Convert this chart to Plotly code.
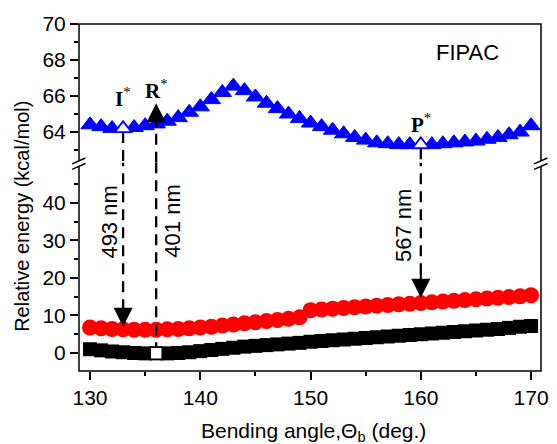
import plotly.graph_objects as go

# ---------------- data ----------------
angles = list(range(130, 171))

excited_energy = [64.4, 64.3, 64.2, 64.2, 64.25, 64.35, 64.45, 64.6, 64.8, 65.1,
                  65.4, 65.8, 66.2, 66.55, 66.3, 65.95, 65.6, 65.3, 65.0, 64.75,
                  64.5, 64.3, 64.1, 63.9, 63.7, 63.55, 63.4, 63.35, 63.3, 63.3,
                  63.3, 63.3, 63.35, 63.4, 63.45, 63.5, 63.6, 63.7, 63.85, 64.0,
                  64.35]

middle_energy = [6.8, 6.6, 6.4, 6.3, 6.2, 6.2, 6.2, 6.3, 6.4, 6.6,
                 6.8, 7.0, 7.3, 7.6, 7.9, 8.2, 8.5, 8.8, 9.1, 9.5,
                 11.4, 11.6, 11.8, 12.0, 12.2, 12.4, 12.6, 12.8, 13.0, 13.1,
                 13.3, 13.5, 13.7, 13.9, 14.1, 14.3, 14.5, 14.7, 14.9, 15.1,
                 15.4]

ground_energy = [1.0, 0.7, 0.4, 0.2, 0.0, -0.1, -0.1, -0.1, 0.0, 0.2,
                 0.5, 0.8, 1.1, 1.4, 1.7, 1.9, 2.1, 2.3, 2.5, 2.7,
                 3.0, 3.2, 3.4, 3.6, 3.8, 4.0, 4.2, 4.4, 4.6, 4.8,
                 5.0, 5.2, 5.4, 5.6, 5.8, 6.0, 6.2, 6.4, 6.7, 7.0,
                 7.2]

angle_I, angle_R, angle_P = 133, 136, 160
wavelength_labels = ["493 nm", "401 nm", "567 nm"]
x_ticks = [130, 140, 150, 160, 170]
y_low_ticks = [0, 10, 20, 30, 40]
y_high_ticks = [64, 66, 68, 70]

X_RANGE = [129.0, 170.9]
Y_LOW_RANGE = [-4.8, 50.7]
Y_HIGH_RANGE = [62.29, 70.0]
R_STAR_TIP = 65.6

def val(series, a):
    return series[angles.index(a)]

FONT = "Liberation Sans, Arial, sans-serif"
SERIF = "Liberation Serif, Times New Roman, serif"
DASH = "11px,7px"

fig = go.Figure()

# main series
fig.add_trace(go.Scatter(x=angles, y=ground_energy, mode="markers",
                         marker=dict(symbol="square", size=14, color="black"),
                         yaxis="y", showlegend=False))
fig.add_trace(go.Scatter(x=angles, y=middle_energy, mode="markers",
                         marker=dict(symbol="circle", size=16, color="#FF0000"),
                         yaxis="y", showlegend=False))
fig.add_trace(go.Scatter(x=angles, y=excited_energy, mode="markers",
                         marker=dict(symbol="triangle-up", size=16, color="#0000FF",
                                     line=dict(color="#0000FF", width=1)),
                         yaxis="y2", showlegend=False))

# dashed transition lines
line_style = dict(color="black", width=2.3, dash=DASH)
# I* -> down (493 nm)
fig.add_trace(go.Scatter(x=[angle_I, angle_I], y=[val(excited_energy, angle_I) - 0.2, Y_HIGH_RANGE[0] - 1],
                         mode="lines", line=line_style, yaxis="y2", showlegend=False))
fig.add_trace(go.Scatter(x=[angle_I, angle_I], y=[Y_LOW_RANGE[1] + 2, val(middle_energy, angle_I) + 4],
                         mode="lines", line=line_style, yaxis="y", showlegend=False))
# R -> R* (401 nm)
fig.add_trace(go.Scatter(x=[angle_R, angle_R], y=[val(ground_energy, angle_R), Y_LOW_RANGE[1] + 2],
                         mode="lines", line=line_style, yaxis="y", showlegend=False))
fig.add_trace(go.Scatter(x=[angle_R, angle_R], y=[Y_HIGH_RANGE[0] - 1, R_STAR_TIP - 0.8],
                         mode="lines", line=line_style, yaxis="y2", showlegend=False))
# P* -> down (567 nm)
fig.add_trace(go.Scatter(x=[angle_P, angle_P], y=[val(excited_energy, angle_P) - 0.2, Y_HIGH_RANGE[0] - 1],
                         mode="lines", line=line_style, yaxis="y2", showlegend=False))
fig.add_trace(go.Scatter(x=[angle_P, angle_P], y=[Y_LOW_RANGE[1] + 2, val(middle_energy, angle_P) + 4],
                         mode="lines", line=line_style, yaxis="y", showlegend=False))

# highlighted points
fig.add_trace(go.Scatter(x=[angle_I, angle_P],
                         y=[val(excited_energy, angle_I), val(excited_energy, angle_P)],
                         mode="markers",
                         marker=dict(symbol="triangle-up", size=14, color="white",
                                     line=dict(color="#0000FF", width=1.5)),
                         yaxis="y2", showlegend=False))
fig.add_trace(go.Scatter(x=[angle_R], y=[val(ground_energy, angle_R)], mode="markers",
                         marker=dict(symbol="square", size=12, color="white",
                                     line=dict(color="black", width=1.5)),
                         yaxis="y", showlegend=False))

annotations = []
# arrowheads
for a, yref, tip, ay in [
    (angle_I, "y", val(middle_energy, angle_I) + 0.7, -26),
    (angle_P, "y", val(middle_energy, angle_P) + 1.4, -26),
    (angle_R, "y2", R_STAR_TIP, 26),
]:
    annotations.append(dict(x=a, y=tip, xref="x", yref=yref, ax=0, ay=ay,
                            showarrow=True, arrowhead=2, arrowsize=1.9, arrowwidth=2,
                            arrowcolor="black", text="", standoff=0))

# state labels
label_font = dict(family=SERIF, size=21, color="black")
annotations += [
    dict(x=angle_I, y=65.9, xref="x", yref="y2", text="<b>I</b><sup>*</sup>", showarrow=False,
         font=label_font, xanchor="center", yanchor="middle"),
    dict(x=angle_R, y=66.35, xref="x", yref="y2", text="<b>R</b><sup>*</sup>", showarrow=False,
         font=label_font, xanchor="center", yanchor="middle"),
    dict(x=angle_P, y=64.45, xref="x", yref="y2", text="<b>P</b><sup>*</sup>", showarrow=False,
         font=label_font, xanchor="center", yanchor="middle"),
    dict(x=angle_R, y=-6.9, xref="x", yref="y", text="<b>R</b>", showarrow=False,
         font=label_font, xanchor="center", yanchor="middle"),
]
# wavelength labels
for xpos, ypos, txt in [(131.77, 34.9, wavelength_labels[0]),
                        (137.5, 35.2, wavelength_labels[1]),
                        (158.5, 33.9, wavelength_labels[2])]:
    annotations.append(dict(x=xpos, y=ypos, xref="x", yref="y", text=txt, textangle=-90,
                            showarrow=False, xanchor="center", yanchor="middle",
                            font=dict(family=FONT, size=22, color="black")))

annotations += [
    dict(x=0.84, y=0.919, xref="paper", yref="paper", text="FIPAC", showarrow=False,
         xanchor="center", yanchor="middle", font=dict(family=FONT, size=22, color="black")),
    dict(x=-0.125, y=0.445, xref="paper", yref="paper", text="Relative energy (kcal/mol)",
         textangle=-90, showarrow=False, xanchor="center", yanchor="middle",
         font=dict(family=FONT, size=20, color="black")),
    dict(x=0.507, y=-0.176, xref="paper", yref="paper",
         text="Bending angle,\u0398<sub>b</sub> (deg.)", showarrow=False,
         xanchor="center", yanchor="middle",
         font=dict(family=FONT, size=21, color="black")),
]

shapes = [
    dict(type="rect", xref="paper", yref="paper", x0=0, x1=1, y0=0, y1=1,
         line=dict(color="black", width=1.5), layer="above"),
]
for xc in (0, 1):
    shapes.append(dict(type="rect", xref="paper", yref="paper", x0=xc - 0.01, x1=xc + 0.01,
                       y0=0.588, y1=0.606, fillcolor="white", line=dict(width=0), layer="above"))
    for dy in (-0.008, 0.008):
        shapes.append(dict(type="line", xref="paper", yref="paper",
                           x0=xc - 0.015, x1=xc + 0.014, y0=0.589 + dy, y1=0.606 + dy,
                           line=dict(color="black", width=1.5), layer="above"))

tickfont = dict(family=FONT, size=21, color="black")
common = dict(ticks="outside", ticklen=8, tickwidth=1.5, tickcolor="black", tickfont=tickfont,
              showgrid=False, zeroline=False, showline=False)
fig.update_layout(
    width=557, height=444,
    margin=dict(l=79, r=9, t=24, b=73),
    paper_bgcolor="white", plot_bgcolor="white",
    showlegend=False,
    xaxis=dict(range=X_RANGE, tickvals=x_ticks, anchor="y", **common,
               minor=dict(tickvals=[135, 145, 155, 165], ticks="outside", ticklen=4,
                          tickwidth=1.5, tickcolor="black", showgrid=False)),
    yaxis=dict(domain=[0, 0.6], range=Y_LOW_RANGE, tickvals=y_low_ticks, anchor="x",
               **common,
               minor=dict(tickvals=[5, 15, 25, 35, 45], ticks="outside", ticklen=4,
                          tickwidth=1.5, tickcolor="black", showgrid=False)),
    yaxis2=dict(domain=[0.6, 1], range=Y_HIGH_RANGE, tickvals=y_high_ticks, anchor="x",
                **common,
                minor=dict(tickvals=[63, 65, 67, 69], ticks="outside", ticklen=4,
                           tickwidth=1.5, tickcolor="black", showgrid=False)),
    annotations=annotations,
    shapes=shapes,
)

fig.write_html("out.html")
